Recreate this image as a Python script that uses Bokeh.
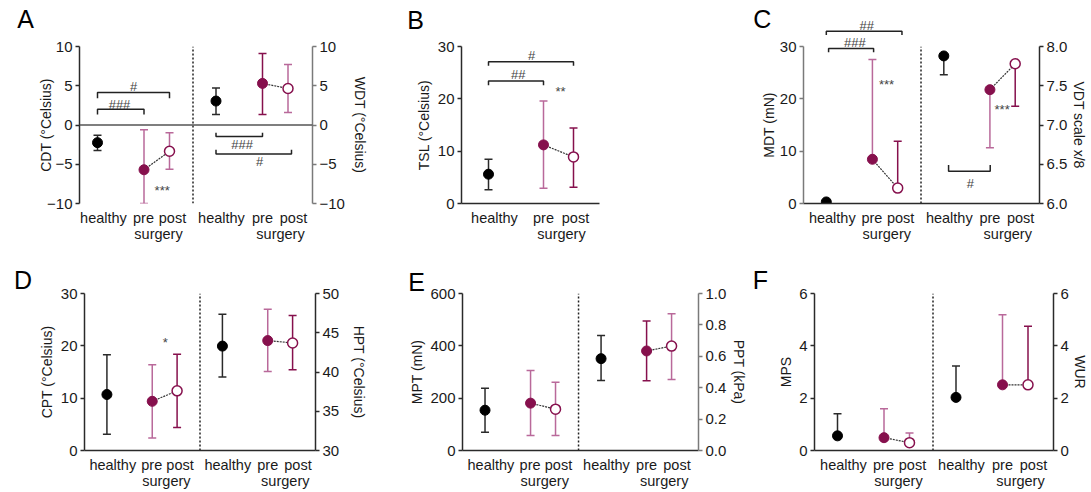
from bokeh.plotting import figure
from bokeh.models import Range1d, LinearAxis, FixedTicker, Span, NumeralTickFormatter
from bokeh.layouts import row, column
from bokeh.embed import file_html
from bokeh.resources import INLINE
from bokeh.core.properties import value

FONT = "Liberation Sans"
DARK = "#86104d"
LIGHT = "#b9699a"
HEALTHY = "#2a2a2a"
AXIS = "#2a2a2a"
AXIS_GRAY = "#7a7a7a"
TEXT = "#1a1a1a"
NOTE = "#444444"

GROUPS = ["healthy", "pre", "post"]
SUBLABEL = "surgery"

# ---------------- data (healthy, pre, post) ----------------
CDT_mean = [-2.25, -5.7, -3.35]
CDT_low = [-3.25, -10.0, -5.65]
CDT_high = [-1.3, -0.6, -1.0]
WDT_mean = [3.05, 5.3, 4.65]
WDT_low = [1.35, 1.35, 1.6]
WDT_high = [4.7, 9.1, 7.7]
TSL_mean = [5.6, 11.2, 8.9]
TSL_low = [2.65, 2.9, 3.1]
TSL_high = [8.45, 19.6, 14.45]
MDT_mean = [0.3, 8.45, 2.95]
MDT_low = [0.3, 8.45, 2.95]
MDT_high = [0.3, 27.5, 11.9]
VDT_mean = [7.88, 7.45, 7.78]
VDT_low = [7.64, 6.71, 7.24]
VDT_high = [7.88, 7.45, 7.78]
CPT_mean = [10.7, 9.4, 11.4]
CPT_low = [3.1, 2.4, 4.4]
CPT_high = [18.3, 16.4, 18.4]
HPT_mean = [43.3, 44.0, 43.7]
HPT_low = [39.35, 40.05, 40.3]
HPT_high = [47.35, 48.0, 47.2]
MPT_mean = [154, 181, 158]
MPT_low = [70, 57, 57]
MPT_high = [238, 306, 261]
PPT_mean = [0.585, 0.634, 0.665]
PPT_low = [0.446, 0.444, 0.453]
PPT_high = [0.732, 0.825, 0.871]
MPS_mean = [0.56, 0.49, 0.30]
MPS_low = [0.56, 0.49, 0.30]
MPS_high = [1.40, 1.60, 0.67]
WUR_mean = [2.03, 2.51, 2.51]
WUR_low = [2.03, 2.51, 2.51]
WUR_high = [3.23, 5.19, 4.75]

# ---------------- layout (x slots, in frame pixels) ----------------
PTS_L = [23, 69.5, 95]
PTS_R = [141.5, 188, 213.5]
DIVIDER = 118.5
TICKS2 = [29, 69, 98, 147, 188, 219]
SURG2 = [84, 206]
PTS_B = [27, 82, 112]
TICKS1 = [33, 82, 114]
SURG1 = [100]


def make_fig(width, height, borders, x_range, y_range):
    l, r, t, b = borders
    p = figure(width=width, height=height,
               x_range=Range1d(*x_range), y_range=Range1d(*y_range),
               output_backend="svg", toolbar_location=None,
               min_border_left=l, min_border_right=r,
               min_border_top=t, min_border_bottom=b)
    p.outline_line_color = None
    p.xgrid.visible = False
    p.ygrid.visible = False
    p.background_fill_color = "white"
    p.border_fill_color = "white"
    return p


def style_y(ax, ticks, label, standoff, color=AXIS, fmt=None):
    ax.ticker = FixedTicker(ticks=ticks)
    if fmt:
        ax.formatter = NumeralTickFormatter(format=fmt)
    ax.axis_label = label
    ax.axis_label_standoff = standoff
    ax.axis_label_text_font = FONT
    ax.axis_label_text_font_size = "14px"
    ax.axis_label_text_font_style = "normal"
    ax.axis_label_text_color = TEXT
    ax.major_label_text_font = FONT
    ax.major_label_text_font_size = "15px"
    ax.major_label_text_color = TEXT
    ax.major_label_standoff = 3
    ax.axis_line_color = color
    ax.axis_line_width = 1.5
    ax.major_tick_line_color = color
    ax.major_tick_line_width = 1.5
    ax.major_tick_out = 4
    ax.major_tick_in = 0
    ax.minor_tick_line_color = None


def plain_x(ax, standoff):
    ax.major_label_text_font = FONT
    ax.major_label_text_font_size = "14.5px"
    ax.major_label_text_color = TEXT
    ax.major_label_standoff = standoff
    ax.major_tick_line_color = None
    ax.major_tick_out = 0
    ax.major_tick_in = 0
    ax.minor_tick_line_color = None


def style_x(p, ticks, names, surg, show_line=True):
    ax = p.xaxis[0]
    ax.ticker = FixedTicker(ticks=ticks)
    ax.major_label_overrides = {t: n for t, n in zip(ticks, names)}
    plain_x(ax, 6)
    ax.axis_line_color = AXIS if show_line else None
    ax.axis_line_width = 1.5
    ax2 = LinearAxis(ticker=FixedTicker(ticks=surg),
                     major_label_overrides={s: SUBLABEL for s in surg})
    plain_x(ax2, -3)
    ax2.axis_line_color = None
    p.add_layout(ax2, "below")


def rn(name):
    return {} if name is None else {"y_range_name": name}


def block(p, xs, mean, low, high, colors, yr=None):
    kw = rn(yr)
    for i in range(3):
        if low[i] != high[i]:
            p.segment(x0=[xs[i]], y0=[low[i]], x1=[xs[i]], y1=[high[i]],
                      line_color=colors[i], line_width=1.5, **kw)
        caps = [v for v in (low[i], high[i]) if v != mean[i]]
        if caps:
            p.scatter(x=[xs[i]] * len(caps), y=caps, marker="dash", size=8,
                      line_color=colors[i], line_width=1.5, **kw)
    p.line(x=xs[1:3], y=mean[1:3], line_dash="2 1", line_color="#333333",
           line_width=1.2, **kw)
    p.scatter(x=[xs[0]], y=[mean[0]], size=10, fill_color="black",
              line_color="black", **kw)
    p.scatter(x=[xs[1]], y=[mean[1]], size=10, fill_color=DARK,
              line_color=DARK, **kw)
    p.scatter(x=[xs[2]], y=[mean[2]], size=10, fill_color="white",
              line_color=DARK, line_width=1.5, **kw)


def divider(p, x, y0, y1):
    p.segment(x0=[x], y0=[y0], x1=[x], y1=[y1], line_color="#222222",
              line_width=1.5, line_dash="2 2")


def bracket(p, x1, x2, y, tip, yr=None, level="glyph"):
    p.line(x=[x1, x1, x2, x2], y=[tip, y, y, tip], line_color="#222222",
           line_width=1.5, level=level, **rn(yr))


def note(p, x, y, text, yr=None, level="glyph"):
    p.text(x=[x], y=[y], text=[text], text_align="center",
           text_baseline="middle", text_font=value(FONT),
           text_font_size="13px", text_color=NOTE, level=level, **rn(yr))


def letter(p, text, x0, y0, ppy, dx, dy):
    # x units are frame pixels; ppy = data units per pixel in y
    p.text(x=[x0 + dx], y=[y0 + dy * ppy], text=[text], text_align="center",
           text_baseline="middle", text_font=value(FONT),
           text_font_size="25px", text_color="black", level="overlay")


H1, H2 = 248, 243

# ---------------- A ----------------
a = make_fig(370, H1, (79, 58, 46, 44), (5, 238), (-10, 10))
a.extra_y_ranges = {"r": Range1d(-10, 10)}
style_y(a.yaxis[0], [-10, -5, 0, 5, 10], "CDT (°Celsius)", -10)
ar = LinearAxis(y_range_name="r")
style_y(ar, [-10, -5, 0, 5, 10], "WDT (°Celsius)", 4, color=AXIS_GRAY)
a.add_layout(ar, "right")
style_x(a, TICKS2, GROUPS * 2, SURG2, show_line=False)
a.add_layout(Span(location=0, dimension="width", line_color="#555555", line_width=1.5))
divider(a, DIVIDER, -10, 10)
block(a, PTS_L, CDT_mean, CDT_low, CDT_high, [HEALTHY, LIGHT, LIGHT])
block(a, PTS_R, WDT_mean, WDT_low, WDT_high, [HEALTHY, DARK, LIGHT], "r")
bracket(a, PTS_L[0], PTS_L[2], 4.14, 3.4)
note(a, 59, 4.85, "#")
bracket(a, PTS_L[0], PTS_L[1], 2.0, 1.35)
note(a, 45, 2.6, "###")
note(a, 87.7, -8.4, "***")
bracket(a, PTS_R[0], PTS_R[1], -1.48, -1.0, "r")
note(a, 167.7, -2.53, "###", "r")
bracket(a, PTS_R[0], 217, -3.71, -3.16, "r")
note(a, 185, -4.64, "#", "r")
letter(a, "A", 5, 10, 20 / 158, -54, 27.5)

# ---------------- B ----------------
b = make_fig(320, H1, (91, 91, 46, 42), (0, 138), (0, 30))
style_y(b.yaxis[0], [0, 10, 20, 30], "TSL (°Celsius)", 3)
style_x(b, TICKS1, GROUPS, SURG1)
block(b, PTS_B, TSL_mean, TSL_low, TSL_high, [HEALTHY, LIGHT, DARK])
bracket(b, PTS_B[0], PTS_B[2], 27.1, 26.3)
note(b, 70, 28.3, "#")
bracket(b, PTS_B[0], PTS_B[1], 23.4, 22.6)
note(b, 56.7, 24.6, "##")
note(b, 99, 21.4, "**")
letter(b, "B", 0, 30, 30 / 160, -46, 27.5)

# ---------------- C ----------------
c = make_fig(400, H1, (113, 49, 46, 45), (0, 238), (0, 30))
c.extra_y_ranges = {"r": Range1d(6, 8)}
style_y(c.yaxis[0], [0, 10, 20, 30], "MDT (mN)", 0, color=AXIS_GRAY)
cr = LinearAxis(y_range_name="r")
style_y(cr, [6, 6.5, 7, 7.5, 8], "VDT scale x/8", 1, fmt="0.0")
c.add_layout(cr, "right")
style_x(c, TICKS2, GROUPS * 2, SURG2)
divider(c, DIVIDER, 0, 30)
block(c, PTS_L, MDT_mean, MDT_low, MDT_high, [HEALTHY, LIGHT, DARK])
block(c, PTS_R, VDT_mean, VDT_low, VDT_high, [HEALTHY, LIGHT, DARK], "r")
bracket(c, PTS_L[0], 99.3, 32.9, 32.2, level="overlay")
note(c, 63.7, 34.0, "##", level="overlay")
bracket(c, 25.3, 70.7, 29.6, 28.9, level="overlay")
note(c, 51.7, 30.7, "###", level="overlay")
note(c, 83.7, 22.7, "***")
note(c, 200.3, 7.2, "***", "r")
bracket(c, 146.3, 188.3, 6.41, 6.49, "r")
note(c, 168.3, 6.26, "#", "r")
letter(c, "C", 0, 30, 30 / 157, -41.5, 27.2)

# ---------------- D ----------------
d = make_fig(370, H2, (84, 49, 45, 40), (0, 237), (0, 30))
d.extra_y_ranges = {"r": Range1d(30, 50)}
style_y(d.yaxis[0], [0, 10, 20, 30], "CPT (°Celsius)", 3)
dr = LinearAxis(y_range_name="r")
style_y(dr, [30, 35, 40, 45, 50], "HPT (°Celsius)", 9)
d.add_layout(dr, "right")
style_x(d, TICKS2, GROUPS * 2, SURG2)
divider(d, DIVIDER, 0, 30)
block(d, PTS_L, CPT_mean, CPT_low, CPT_high, [HEALTHY, LIGHT, DARK])
block(d, PTS_R, HPT_mean, HPT_low, HPT_high, [HEALTHY, LIGHT, DARK], "r")
note(d, 83, 20.6, "*")
letter(d, "D", 0, 30, 30 / 158, -63, 14)

# ---------------- E ----------------
e = make_fig(380, H2, (92, 47, 45, 40), (0, 241), (0, 600))
e.extra_y_ranges = {"r": Range1d(0, 1.0)}
style_y(e.yaxis[0], [0, 200, 400, 600], "MPT (mN)", 2)
er = LinearAxis(y_range_name="r")
style_y(er, [0, 0.2, 0.4, 0.6, 0.8, 1.0], "PPT (kPa)", 2, color=AXIS_GRAY, fmt="0.0")
e.add_layout(er, "right")
style_x(e, TICKS2, GROUPS * 2, SURG2)
divider(e, DIVIDER, 0, 600)
block(e, PTS_L, MPT_mean, MPT_low, MPT_high, [HEALTHY, LIGHT, LIGHT])
block(e, PTS_R, PPT_mean, PPT_low, PPT_high, [HEALTHY, DARK, LIGHT], "r")
letter(e, "E", 0, 600, 600 / 158, -47, 12)

# ---------------- F ----------------
f = make_fig(340, H2, (64, 37, 45, 40), (0, 239), (0, 6))
f.extra_y_ranges = {"r": Range1d(0, 6)}
style_y(f.yaxis[0], [0, 2, 4, 6], "MPS", 2)
fr = LinearAxis(y_range_name="r")
style_y(fr, [0, 2, 4, 6], "WUR", 0)
f.add_layout(fr, "right")
style_x(f, TICKS2, GROUPS * 2, SURG2)
divider(f, DIVIDER, 0, 6)
block(f, PTS_L, MPS_mean, MPS_low, MPS_high, [HEALTHY, LIGHT, LIGHT])
block(f, PTS_R, WUR_mean, WUR_low, WUR_high, [HEALTHY, LIGHT, DARK], "r")
letter(f, "F", 0, 6, 6 / 158, -54, 14)

layout = column(row(a, b, c), row(d, e, f))
open("out.html", "w").write(file_html(layout, INLINE))
